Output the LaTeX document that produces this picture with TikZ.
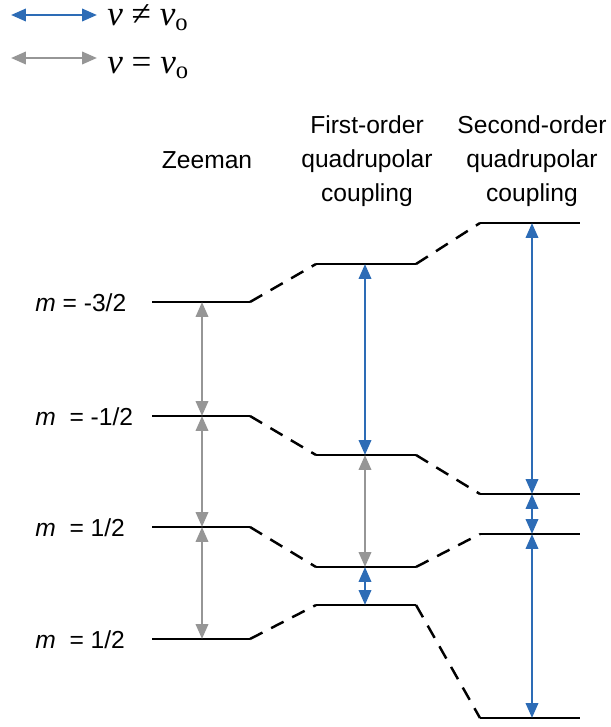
\documentclass[tikz,border=0pt]{standalone}
\usepackage{fontspec}
\setmainfont{Liberation Sans}
\newfontfamily\legendfont{Liberation Serif}
\usetikzlibrary{arrows.meta}
\definecolor{splitblue}{RGB}{45,108,182}
\definecolor{samegray}{RGB}{150,150,150}
\tikzset{
level/.style = {draw = black, line width = 1.4pt},
shift link/.style = {draw = black, line width = 1.4pt, dash pattern = on 8pt off 5.5pt},
blue pair/.style = {draw = splitblue, line width = 1.5pt, arrows = {Triangle[length = 8.5pt, width = 7pt]-Triangle[length = 8.5pt, width = 7pt]}},
gray pair/.style = {draw = samegray, line width = 1.5pt, arrows = {Triangle[length = 8.5pt, width = 7pt]-Triangle[length = 8.5pt, width = 7pt]}},
column head/.style = {align = center, font = \fontsize{14}{19.3}\selectfont, inner sep = 0pt},
spin label/.style = {anchor = base west, font = \fontsize{14}{17}\selectfont, inner sep = 0pt},
legend text/.style = {anchor = base west, font = \legendfont\fontsize{20}{22}\selectfont, inner sep = 0pt},
}

\begin{document}
\begin{tikzpicture}[x = 0.02cm, y = -0.02cm]
      \useasboundingbox (0, 0) rectangle (611, 727);
      % legend
      \coordinate (key1a) at (11, 15);
      \coordinate (key1b) at (97, 15);
      \coordinate (key2a) at (11, 58);
      \coordinate (key2b) at (97, 58);
      \draw[blue pair] (key1a) -- (key1b);
      \draw[gray pair] (key2a) -- (key2b);
      \node[legend text] (key1) at (107, 25) {\textit{ν} ≠ \textit{ν}\textsubscript{o}};
      \node[legend text] (key2) at (107, 73) {\textit{ν} = \textit{ν}\textsubscript{o}};
      % column heads
      \node[column head, anchor = base] (zeeman) at (207, 168) {Zeeman};
      \node[column head] (first) at (367, 161) {First-order\\quadrupolar\\coupling};
      \node[column head] (second) at (532, 161) {Second-order\\quadrupolar\\coupling};
      % spin states
      \node[spin label] (m1) at (35, 311) {\textit{m} = -3/2};
      \node[spin label] (m2) at (35, 425) {\textit{m}\ \ = -1/2};
      \node[spin label] (m3) at (35, 536) {\textit{m}\ \ = 1/2};
      \node[spin label] (m4) at (35, 648) {\textit{m}\ \ = 1/2};
      % Zeeman levels
      \coordinate (z1a) at (152, 302); \coordinate (z1b) at (250, 302);
      \coordinate (z2a) at (152, 416); \coordinate (z2b) at (250, 416);
      \coordinate (z3a) at (152, 527); \coordinate (z3b) at (250, 527);
      \coordinate (z4a) at (152, 639); \coordinate (z4b) at (250, 639);
      % first-order levels
      \coordinate (f1a) at (316, 264); \coordinate (f1b) at (416, 264);
      \coordinate (f2a) at (316, 455); \coordinate (f2b) at (416, 455);
      \coordinate (f3a) at (316, 567); \coordinate (f3b) at (416, 567);
      \coordinate (f4a) at (316, 605); \coordinate (f4b) at (416, 605);
      % second-order levels
      \coordinate (s1a) at (480, 223); \coordinate (s1b) at (580, 223);
      \coordinate (s2a) at (480, 494); \coordinate (s2b) at (580, 494);
      \coordinate (s3a) at (480, 534); \coordinate (s3b) at (580, 534);
      \coordinate (s4a) at (480, 718); \coordinate (s4b) at (580, 718);
      \draw[level] (z1a) -- (z1b);
      \draw[level] (z2a) -- (z2b);
      \draw[level] (z3a) -- (z3b);
      \draw[level] (z4a) -- (z4b);
      \draw[level] (f1a) -- (f1b);
      \draw[level] (f2a) -- (f2b);
      \draw[level] (f3a) -- (f3b);
      \draw[level] (f4a) -- (f4b);
      \draw[level] (s1a) -- (s1b);
      \draw[level] (s2a) -- (s2b);
      \draw[level] (s3a) -- (s3b);
      \draw[level] (s4a) -- (s4b);
      \draw[shift link] (z1b) -- (f1a);
      \draw[shift link] (z2b) -- (f2a);
      \draw[shift link] (z3b) -- (f3a);
      \draw[shift link] (z4b) -- (f4a);
      \draw[shift link] (f1b) -- (s1a);
      \draw[shift link] (f2b) -- (s2a);
      \draw[shift link] (f3b) -- (s3a);
      \draw[shift link] (f4b) -- (s4a);
      % transitions
      \coordinate (zx) at (202, 0);
      \coordinate (fx) at (365, 0);
      \coordinate (sx) at (532, 0);
      \draw[gray pair] (zx |- z1a) -- (zx |- z2a);
      \draw[gray pair] (zx |- z2a) -- (zx |- z3a);
      \draw[gray pair] (zx |- z3a) -- (zx |- z4a);
      \draw[blue pair] (fx |- f1a) -- (fx |- f2a);
      \draw[gray pair] (fx |- f2a) -- (fx |- f3a);
      \draw[blue pair] (fx |- f3a) -- (fx |- f4a);
      \draw[blue pair] (sx |- s1a) -- (sx |- s2a);
      \draw[blue pair] (sx |- s2a) -- (sx |- s3a);
      \draw[blue pair] (sx |- s3a) -- (sx |- s4a);
\end{tikzpicture}
\end{document}
